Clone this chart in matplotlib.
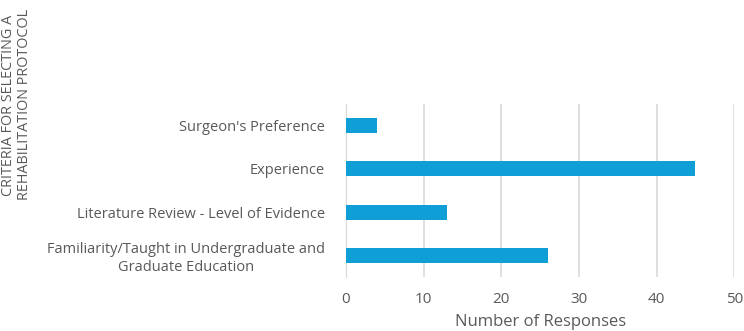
import matplotlib.pyplot as plt

categories = ["Surgeon's Preference", "Experience", "Literature Review - Level of Evidence",
              "Familiarity/Taught in Undergraduate and\nGraduate Education"]
responses = [4, 45, 13, 26]
x_ticks = [0, 10, 20, 30, 40, 50]

plt.rcParams['font.family'] = ['Open Sans', 'DejaVu Sans']
txt = '#595959'

fig = plt.figure(figsize=(7.44, 3.31), dpi=100)
ax = fig.add_axes([0.465, 0.163, 0.522, 0.523])

pos = list(range(len(categories)))
ax.barh(pos, responses, height=0.35, color='#0f9ed5', zorder=3)
ax.set_ylim(len(categories) - 0.5, -0.5)
ax.set_xlim(0, 50)
ax.set_xticks(x_ticks)
ax.set_yticks(pos)
ax.set_yticklabels(categories, fontsize=10.5, color=txt, linespacing=1.2)
for lab in ax.get_yticklabels():
    lab.set_multialignment('center')
ax.tick_params(axis='x', labelsize=11, colors=txt, length=0, pad=11)
ax.tick_params(axis='y', length=0, pad=15)
ax.grid(axis='x', color='#d9d9d9', linewidth=1.2, zorder=0)
for s in ['top', 'right', 'bottom']:
    ax.spines[s].set_visible(False)
ax.spines['left'].set_color('#d9d9d9')
ax.set_xlabel('Number of Responses', fontsize=12, color=txt, labelpad=5)

fig.text(0.022, 0.683, 'CRITERIA FOR SELECTING A\nREHABILITATION PROTOCOL', rotation=90,
         ha='center', va='center', fontsize=10.4, color=txt, multialignment='center',
         linespacing=1.15)

fig.savefig('out.png', dpi=100)
